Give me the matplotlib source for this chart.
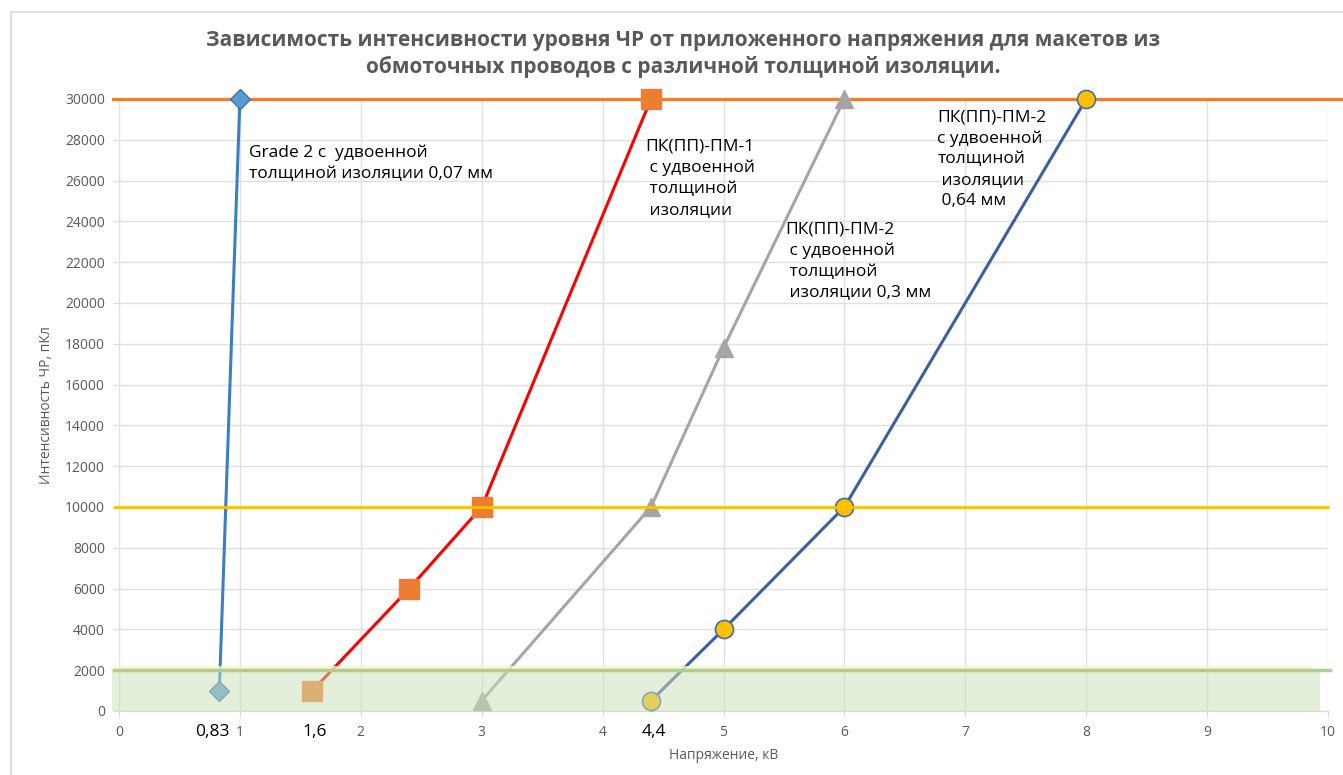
import matplotlib
matplotlib.use("Agg")
import matplotlib.pyplot as plt
from matplotlib.lines import Line2D

plt.rcParams['font.family'] = ['Open Sans', 'DejaVu Sans']

# ---- data ----
grade2_x = [0.83, 1.0]
grade2_y = [1000, 30000]
pm1_x = [1.6, 2.4, 3.0, 4.4]
pm1_y = [1000, 6000, 10000, 30000]
pm2_03_x = [3.0, 4.4, 5.0, 6.0]
pm2_03_y = [500, 10000, 17800, 30000]
pm2_064_x = [4.4, 5.0, 6.0, 8.0]
pm2_064_y = [500, 4000, 10000, 30000]

level_top = 30000
level_mid = 10000
level_low = 2000

x_ticks = list(range(0, 11))
y_ticks = list(range(0, 30001, 2000))
extra_x_labels = [(0.77, "0,83"), (1.62, "1,6"), (4.42, "4,4")]

title = ("Зависимость интенсивности уровня ЧР от приложенного напряжения для макетов из\n"
         "обмоточных проводов с различной толщиной изоляции.")
xlabel = "Напряжение, кВ"
ylabel = "Интенсивность ЧР, пКл"

ann_grade2 = "Grade 2 с  удвоенной\nтолщиной изоляции 0,07 мм"
ann_pm1 = "ПК(ПП)-ПМ-1\n с удвоенной\n толщиной\n изоляции"
ann_pm2_03 = "ПК(ПП)-ПМ-2\n с удвоенной\n толщиной\n изоляции 0,3 мм"
ann_pm2_064 = "ПК(ПП)-ПМ-2\nс удвоенной\nтолщиной\n изоляции\n 0,64 мм"

# ---- figure ----
fig = plt.figure(figsize=(13.43, 7.75), dpi=100)
ax = fig.add_axes([119/1343, 1-711/775, (1328-119)/1343, (711-99)/775])

ax.set_xlim(0, 10)
ax.set_ylim(0, 30000)
ax.set_xticks(x_ticks)
ax.set_yticks(y_ticks)
ax.grid(True, color='#e0e0e0', linewidth=1.0, zorder=0)
ax.set_axisbelow(True)
for s in ['top', 'right', 'left']:
    ax.spines[s].set_visible(False)
ax.spines['bottom'].set_color('#d9d9d9')
ax.tick_params(axis='both', colors='#595959', labelsize=10, length=4, color='#d9d9d9')
ax.tick_params(axis='x', pad=6)
ax.tick_params(axis='y', pad=6)

# series
ax.plot(grade2_x, grade2_y, color='#3a7fc4', linewidth=2.2, marker='D', markersize=10,
        markerfacecolor='#5b9bd5', markeredgecolor='#41719c', zorder=4, clip_on=False)
ax.plot(pm1_x, pm1_y, color='#ff0000', linewidth=2.2, marker='s', markersize=14,
        markerfacecolor='#ed7d31', markeredgecolor='#ed7d31', zorder=4, clip_on=False)
ax.plot(pm2_03_x, pm2_03_y, color='#a5a5a5', linewidth=2.2, marker='^', markersize=13,
        markerfacecolor='#a5a5a5', markeredgecolor='#a5a5a5', zorder=4, clip_on=False)
ax.plot(pm2_064_x, pm2_064_y, color='#3b5f9f', linewidth=2.2, marker='o', markersize=13,
        markerfacecolor='#ffc000', markeredgecolor='#41719c', markeredgewidth=1.2,
        zorder=4, clip_on=False)

# level lines
ax.plot([-0.05, 10.15], [level_top, level_top], color='#ed7d31', linewidth=2.2,
        zorder=3, clip_on=False)
ax.plot([-0.03, 10.0], [level_mid, level_mid], color='#ffc000', linewidth=2.0,
        zorder=5, clip_on=False)

# low band
ax.fill_between([-0.06, 9.93], 0, level_low, color='#cbe1b9', alpha=0.5,
                linewidth=0, zorder=6, clip_on=False)
ax.fill_between([-0.07, 9.87], level_low, level_low + 230, color='#fff2cc', alpha=0.8,
                linewidth=0, zorder=6, clip_on=False)
ax.plot([-0.04, 10.02], [level_low, level_low], color='#a9d18e', linewidth=2.5,
        zorder=7, clip_on=False)

# annotations
ann_kw = dict(fontsize=12.5, color='black', va='top', ha='left', linespacing=1.4, zorder=8)
ax.text(1.075, 27750, ann_grade2, **ann_kw)
ax.text(4.35, 28050, ann_pm1, **ann_kw)
ax.text(5.51, 24000, ann_pm2_03, **ann_kw)
ax.text(6.77, 29500, ann_pm2_064, **ann_kw)

for xv, lab in extra_x_labels:
    ax.text(xv, -0.021, lab, transform=ax.get_xaxis_transform(), ha='center', va='top',
            fontsize=12.5, color='black')

ax.set_xlabel(xlabel, fontsize=10, color='#595959', labelpad=6)
ax.set_ylabel(ylabel, fontsize=10, color='#595959', labelpad=8)

fig.text(683/1343, 1-54/775, title, ha='center', va='center', fontsize=15, fontweight='bold',
         color='#595959', linespacing=1.3)

# chart border
fig.add_artist(Line2D([11/1343, 11/1343], [0, 1-12/775], color='#d9d9d9', linewidth=1.2))
fig.add_artist(Line2D([11/1343, 1], [1-12/775, 1-12/775], color='#d9d9d9', linewidth=1.2))

fig.savefig('out.png', dpi=100)
